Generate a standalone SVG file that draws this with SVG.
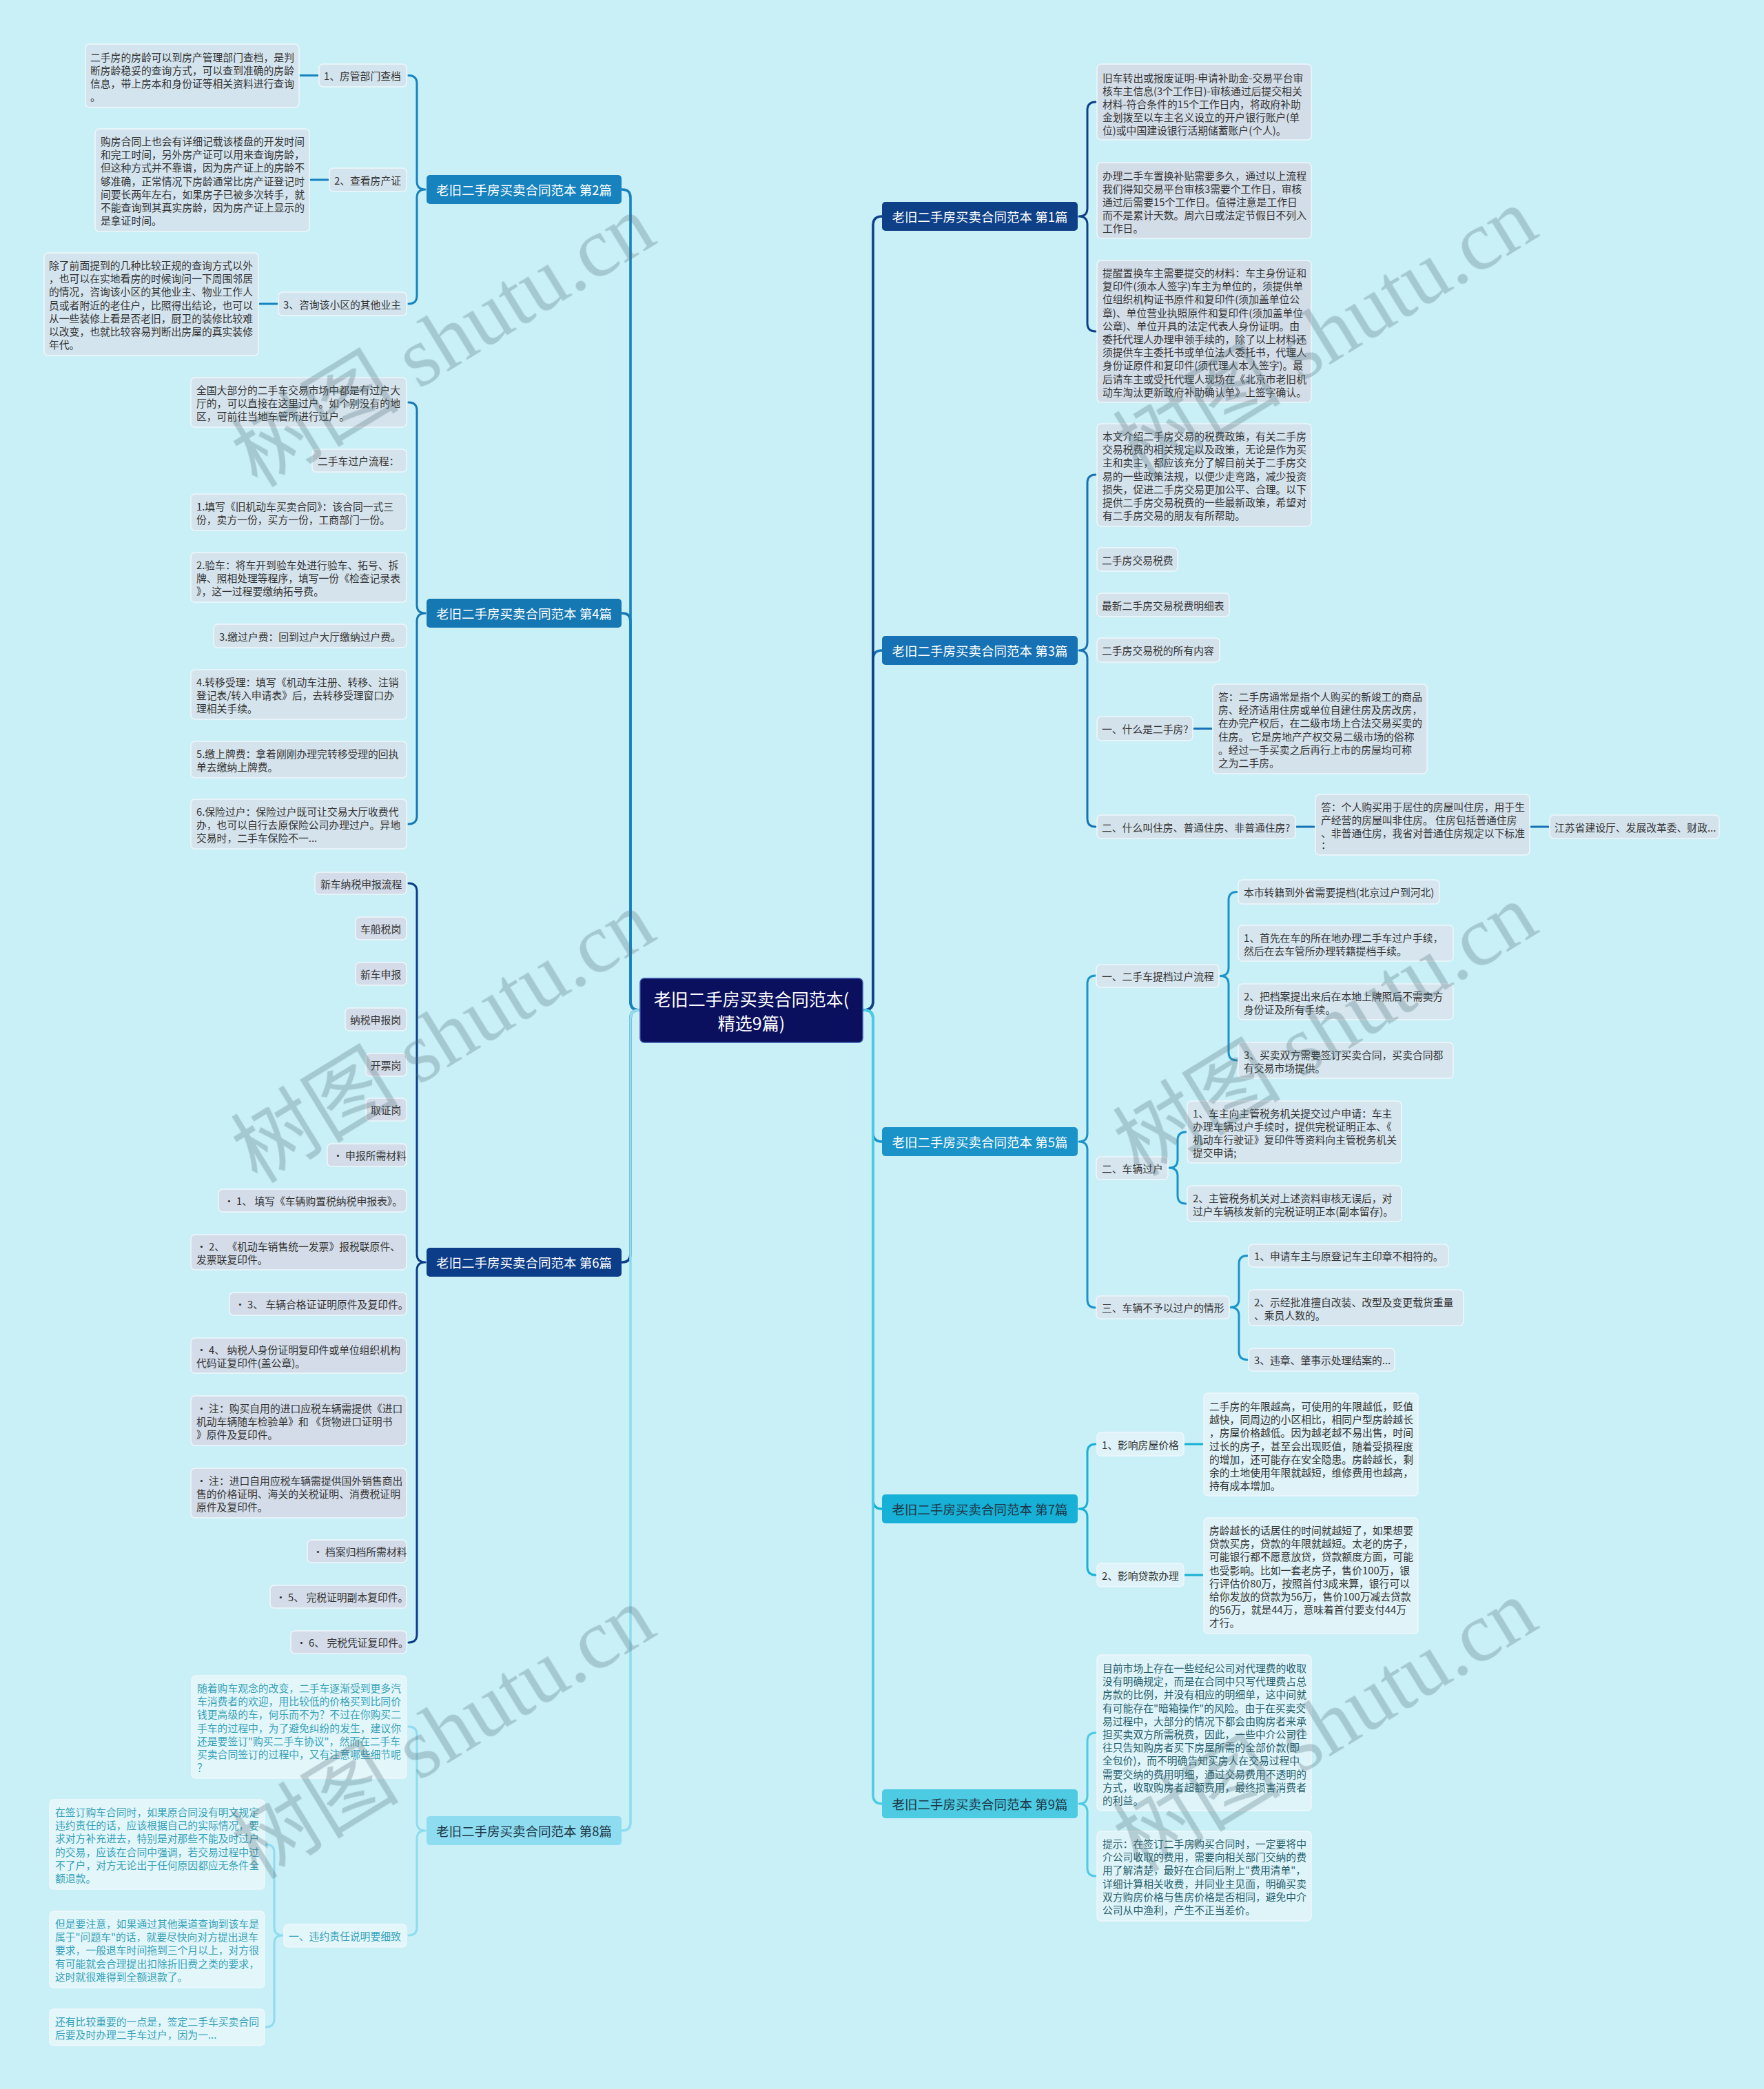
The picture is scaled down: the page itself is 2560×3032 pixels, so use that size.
<svg xmlns="http://www.w3.org/2000/svg" width="2560" height="3032" viewBox="0 0 2560 3032">
<style>
text{font-family:"Noto Sans CJK SC","Liberation Sans",sans-serif}
.t{font-size:14.8px;fill:#333;dominant-baseline:central}
.lf rect{stroke:#eef8fb;stroke-width:1.5}
.p1 rect{fill:#d3dde8}.p2 rect{fill:#d4e4ee}.p3 rect{fill:#d4e2ec}.p4 rect{fill:#d5e3ec}.p5 rect{fill:#d6e5ee}.p6 rect{fill:#d3dce8}.p7 rect{fill:#dff3f8}.p8 rect{fill:#e3f6fa}.p9 rect{fill:#dff4f9}
.p8 .t{fill:#37a2b8}.p9 .t{fill:#265e6b}
.br text{font-size:18.5px;text-anchor:middle;dominant-baseline:central}
.wt{fill:#ffffff}.dk{fill:#1c3646}
.con path{fill:none;stroke-width:3;stroke-linecap:round;stroke-linejoin:round}
.cc path{stroke-width:3.6}
.wm{fill:#506e78;opacity:.3;font-size:122px}
</style>
<rect width="2560" height="3032" fill="#c9eff7"/>

<g id="connectors" class="con">
 <g class="cc">
  <path stroke="#1678b3" d="M927,1466 Q915,1466 915,1454 L915,902 Q915,890 903,890"/>
  <path stroke="#1683bf" d="M927,1466 Q915,1466 915,1454 L915,287 Q915,275 903,275"/>
  <path stroke="#0c3d88" d="M927,1466 Q915,1466 915,1478 L915,1820 Q915,1832 903,1832"/>
  <path stroke="#8edcf0" d="M927,1466 Q915,1466 915,1478 L915,2645 Q915,2657 903,2657"/>
  <path stroke="#1672b4" d="M1254,1466 Q1267,1466 1267,1453 L1267,957 Q1267,944 1280,944"/>
  <path stroke="#0e4088" d="M1254,1466 Q1267,1466 1267,1453 L1267,327 Q1267,314 1280,314"/>
  <path stroke="#1a93c9" d="M1254,1466 Q1267,1466 1267,1479 L1267,1644 Q1267,1657 1280,1657"/>
  <path stroke="#17b0d6" d="M1254,1466 Q1267,1466 1267,1479 L1267,2177 Q1267,2190 1280,2190"/>
  <path stroke="#4dcbe3" d="M1254,1466 Q1267,1466 1267,1479 L1267,2605 Q1267,2618 1280,2618"/>
 </g>
 <path stroke="#1683bf" d="M593,109.5 Q605,109.5 605,121.5 L605,263 Q605,275 617,275 Q605,275 605,287 L605,429 Q605,441 593,441"/>
 <path stroke="#1683bf" d="M436,109.5 L461,109.5 M451,261 L476,261 M377,441 L402,441"/>
 <path stroke="#1678b3" d="M593,584 Q605,584 605,596 L605,878 Q605,890 617,890 Q605,890 605,902 L605,1184 Q605,1196 593,1196"/>
 <path stroke="#0c3d88" d="M593,1282 Q605,1282 605,1294 L605,1820 Q605,1832 617,1832 Q605,1832 605,1844 L605,2372 Q605,2384 593,2384"/>
 <path stroke="#8edcf0" d="M593,2506 Q605,2506 605,2518 L605,2645 Q605,2657 617,2657 Q605,2657 605,2669 L605,2797 Q605,2809 593,2809"/>
 <path stroke="#8edcf0" d="M386,2677 Q398,2677 398,2689 L398,2797 Q398,2809 410,2809 Q398,2809 398,2821 L398,2930 Q398,2942 386,2942"/>
 <path stroke="#0e4088" d="M1590,148 Q1578,148 1578,160 L1578,302 Q1578,314 1566,314 Q1578,314 1578,326 L1578,469 Q1578,481 1590,481"/>
 <path stroke="#1672b4" d="M1590,689 Q1578,689 1578,701 L1578,932 Q1578,944 1566,944 Q1578,944 1578,956 L1578,1188 Q1578,1200 1590,1200"/>
 <path stroke="#1672b4" d="M1733,1057.5 L1758,1057.5 M1882,1200 L1907,1200 M2222,1200 L2247,1200"/>
 <path stroke="#1a93c9" d="M1590,1416 Q1578,1416 1578,1428 L1578,1645 Q1578,1657 1566,1657 Q1578,1657 1578,1669 L1578,1886 Q1578,1898 1590,1898"/>
 <path stroke="#1a93c9" d="M1795,1294.5 Q1783,1294.5 1783,1306.5 L1783,1404.5 Q1783,1416.5 1771,1416.5 Q1783,1416.5 1783,1428.5 L1783,1527 Q1783,1539 1795,1539"/>
 <path stroke="#1a93c9" d="M1721,1643 Q1709,1643 1709,1655 L1709,1683 Q1709,1695 1697,1695 Q1709,1695 1709,1707 L1709,1735 Q1709,1747 1721,1747"/>
 <path stroke="#1a93c9" d="M1810,1822.5 Q1798,1822.5 1798,1834.5 L1798,1885.5 Q1798,1897.5 1786,1897.5 Q1798,1897.5 1798,1909.5 L1798,1961.5 Q1798,1973.5 1810,1973.5"/>
 <path stroke="#17b0d6" d="M1590,2096 Q1578,2096 1578,2108 L1578,2178 Q1578,2190 1566,2190 Q1578,2190 1578,2202 L1578,2274 Q1578,2286 1590,2286"/>
 <path stroke="#17b0d6" d="M1720,2096 L1745,2096 M1720,2286 L1745,2286"/>
 <path stroke="#4dcbe3" d="M1590,2515 Q1578,2515 1578,2527 L1578,2606 Q1578,2618 1566,2618 Q1578,2618 1578,2630 L1578,2711 Q1578,2723 1590,2723"/>
</g>

<g id="center">
 <rect x="929" y="1420" width="323" height="93" rx="6" fill="#0b105e" stroke="#3552a8" stroke-width="1.5"/>
 <text font-size="25" fill="#fff" text-anchor="middle" dominant-baseline="central"><tspan x="1090.5" y="1449">老旧二手房买卖合同范本(</tspan><tspan x="1090.5" y="1484">精选9篇)</tspan></text>
</g>

<g id="b1" class="br"><rect x="1280" y="293" width="284" height="42" rx="5" fill="#0e4088"/><text class="wt" x="1422" y="314">老旧二手房买卖合同范本 第1篇</text></g>
<g id="b2" class="br"><rect x="619" y="254" width="283" height="42" rx="5" fill="#1683bf"/><text class="wt" x="760.5" y="275">老旧二手房买卖合同范本 第2篇</text></g>
<g id="b3" class="br"><rect x="1280" y="923" width="284" height="42" rx="5" fill="#1672b4"/><text class="wt" x="1422" y="944">老旧二手房买卖合同范本 第3篇</text></g>
<g id="b4" class="br"><rect x="619" y="869" width="283" height="42" rx="5" fill="#1678b3"/><text class="wt" x="760.5" y="890">老旧二手房买卖合同范本 第4篇</text></g>
<g id="b5" class="br"><rect x="1280" y="1636" width="284" height="42" rx="5" fill="#1a93c9"/><text class="wt" x="1422" y="1657">老旧二手房买卖合同范本 第5篇</text></g>
<g id="b6" class="br"><rect x="619" y="1811" width="283" height="42" rx="5" fill="#0c3d88"/><text class="wt" x="760.5" y="1832">老旧二手房买卖合同范本 第6篇</text></g>
<g id="b7" class="br"><rect x="1280" y="2169" width="284" height="42" rx="5" fill="#17b0d6"/><text class="dk" x="1422" y="2190">老旧二手房买卖合同范本 第7篇</text></g>
<g id="b8" class="br"><rect x="619" y="2636" width="283" height="42" rx="5" fill="#8edcf0"/><text class="dk" x="760.5" y="2657">老旧二手房买卖合同范本 第8篇</text></g>
<g id="b9" class="br"><rect x="1280" y="2597" width="284" height="42" rx="5" fill="#4dcbe3"/><text class="dk" x="1422" y="2618">老旧二手房买卖合同范本 第9篇</text></g>

<!-- 第2篇 -->
<g id="a1" class="lf p2"><rect x="124" y="64" width="310" height="92" rx="6"/><text class="t"><tspan x="131" y="82">二手房的房龄可以到房产管理部门查档，是判</tspan><tspan x="131" y="101">断房龄稳妥的查询方式，可以查到准确的房龄</tspan><tspan x="131" y="120">信息，带上房本和身份证等相关资料进行查询</tspan><tspan x="131" y="139">。</tspan></text></g>
<g id="l1" class="lf p2"><rect x="463" y="93" width="127" height="33" rx="6"/><text class="t" x="470" y="109.5">1、房管部门查档</text></g>
<g id="a2" class="lf p2"><rect x="138" y="187" width="311" height="149" rx="6"/><text class="t"><tspan x="146" y="204">购房合同上也会有详细记载该楼盘的开发时间</tspan><tspan x="146" y="223.2">和完工时间，另外房产证可以用来查询房龄，</tspan><tspan x="146" y="242.4">但这种方式并不靠谱，因为房产证上的房龄不</tspan><tspan x="146" y="261.6">够准确，正常情况下房龄通常比房产证登记时</tspan><tspan x="146" y="280.8">间要长两年左右，如果房子已被多次转手，就</tspan><tspan x="146" y="300">不能查询到其真实房龄，因为房产证上显示的</tspan><tspan x="146" y="319.2">是拿证时间。</tspan></text></g>
<g id="l2" class="lf p2"><rect x="478" y="244" width="112" height="34" rx="6"/><text class="t" x="485" y="261">2、查看房产证</text></g>
<g id="a3" class="lf p2"><rect x="64" y="367" width="311" height="149" rx="6"/><text class="t"><tspan x="71" y="384">除了前面提到的几种比较正规的查询方式以外</tspan><tspan x="71" y="403.2">，也可以在实地看房的时候询问一下周围邻居</tspan><tspan x="71" y="422.4">的情况，咨询该小区的其他业主、物业工作人</tspan><tspan x="71" y="441.6">员或者附近的老住户，比照得出结论，也可以</tspan><tspan x="71" y="460.8">从一些装修上看是否老旧，厨卫的装修比较难</tspan><tspan x="71" y="480">以改变，也就比较容易判断出房屋的真实装修</tspan><tspan x="71" y="499.2">年代。</tspan></text></g>
<g id="l3" class="lf p2"><rect x="404" y="424" width="186" height="34" rx="6"/><text class="t" x="411" y="441">3、咨询该小区的其他业主</text></g>

<!-- 第4篇 -->
<g id="c4a" class="lf p4"><rect x="277" y="548" width="313" height="72" rx="6"/><text class="t"><tspan x="285" y="565">全国大部分的二手车交易市场中都是有过户大</tspan><tspan x="285" y="584.2">厅的，可以直接在这里过户。如个别没有的地</tspan><tspan x="285" y="603.4">区，可前往当地车管所进行过户。</tspan></text></g>
<g id="c4b" class="lf p4"><rect x="453" y="652" width="137" height="33" rx="6"/><text class="t" x="461" y="668.5">二手车过户流程：</text></g>
<g id="c4c" class="lf p4"><rect x="277" y="717" width="313" height="53" rx="6"/><text class="t"><tspan x="285" y="734">1.填写《旧机动车买卖合同》：该合同一式三</tspan><tspan x="285" y="753.2">份，卖方一份，买方一份，工商部门一份。</tspan></text></g>
<g id="c4d" class="lf p4"><rect x="277" y="802" width="313" height="72" rx="6"/><text class="t"><tspan x="285" y="819">2.验车：将车开到验车处进行验车、拓号、拆</tspan><tspan x="285" y="838.2">牌、照相处理等程序，填写一份《检查记录表</tspan><tspan x="285" y="857.4">》，这一过程要缴纳拓号费。</tspan></text></g>
<g id="c4e" class="lf p4"><rect x="310" y="906" width="280" height="34" rx="6"/><text class="t" x="318" y="923">3.缴过户费：回到过户大厅缴纳过户费。</text></g>
<g id="c4f" class="lf p4"><rect x="277" y="972" width="313" height="72" rx="6"/><text class="t"><tspan x="285" y="989">4.转移受理：填写《机动车注册、转移、注销</tspan><tspan x="285" y="1008.2">登记表/转入申请表》后，去转移受理窗口办</tspan><tspan x="285" y="1027.4">理相关手续。</tspan></text></g>
<g id="c4g" class="lf p4"><rect x="277" y="1076" width="313" height="53" rx="6"/><text class="t"><tspan x="285" y="1093">5.缴上牌费：拿着刚刚办理完转移受理的回执</tspan><tspan x="285" y="1112.2">单去缴纳上牌费。</tspan></text></g>
<g id="c4h" class="lf p4"><rect x="277" y="1160" width="313" height="72" rx="6"/><text class="t"><tspan x="285" y="1177">6.保险过户：保险过户既可让交易大厅收费代</tspan><tspan x="285" y="1196.2">办，也可以自行去原保险公司办理过户。异地</tspan><tspan x="285" y="1215.4">交易时，二手车保险不一...</tspan></text></g>

<!-- 第6篇 -->
<g id="c6a" class="lf p6"><rect x="457" y="1266" width="133" height="32" rx="6"/><text class="t" x="465" y="1282">新车纳税申报流程</text></g>
<g id="c6b" class="lf p6"><rect x="516" y="1331" width="74" height="33" rx="6"/><text class="t" x="523" y="1347.5">车船税岗</text></g>
<g id="c6c" class="lf p6"><rect x="516" y="1397" width="74" height="33" rx="6"/><text class="t" x="523" y="1413.5">新车申报</text></g>
<g id="c6d" class="lf p6"><rect x="501" y="1463" width="89" height="33" rx="6"/><text class="t" x="508" y="1479.5">纳税申报岗</text></g>
<g id="c6e" class="lf p6"><rect x="531" y="1529" width="59" height="33" rx="6"/><text class="t" x="538" y="1545.5">开票岗</text></g>
<g id="c6f" class="lf p6"><rect x="531" y="1594" width="59" height="33" rx="6"/><text class="t" x="538" y="1610.5">取证岗</text></g>
<g id="c6g" class="lf p6"><rect x="475" y="1660" width="115" height="33" rx="6"/><text class="t" x="483" y="1676.5">• 申报所需材料</text></g>
<g id="c6h" class="lf p6"><rect x="317" y="1726" width="273" height="33" rx="6"/><text class="t" x="325" y="1742.5">• 1、 填写《车辆购置税纳税申报表》。</text></g>
<g id="c6i" class="lf p6"><rect x="277" y="1792" width="313" height="51" rx="6"/><text class="t"><tspan x="285" y="1808">• 2、 《机动车销售统一发票》报税联原件、</tspan><tspan x="285" y="1827">发票联复印件。</tspan></text></g>
<g id="c6j" class="lf p6"><rect x="333" y="1876" width="257" height="33" rx="6"/><text class="t" x="341" y="1892.5">• 3、 车辆合格证证明原件及复印件。</text></g>
<g id="c6k" class="lf p6"><rect x="277" y="1942" width="313" height="51" rx="6"/><text class="t"><tspan x="285" y="1958">• 4、 纳税人身份证明复印件或单位组织机构</tspan><tspan x="285" y="1977">代码证复印件(盖公章)。</tspan></text></g>
<g id="c6l" class="lf p6"><rect x="277" y="2026" width="313" height="72" rx="6"/><text class="t"><tspan x="285" y="2043">• 注：购买自用的进口应税车辆需提供《进口</tspan><tspan x="285" y="2062">机动车辆随车检验单》和 《货物进口证明书</tspan><tspan x="285" y="2081">》原件及复印件。</tspan></text></g>
<g id="c6m" class="lf p6"><rect x="277" y="2131" width="313" height="72" rx="6"/><text class="t"><tspan x="285" y="2148">• 注：进口自用应税车辆需提供国外销售商出</tspan><tspan x="285" y="2167">售的价格证明、海关的关税证明、消费税证明</tspan><tspan x="285" y="2186">原件及复印件。</tspan></text></g>
<g id="c6n" class="lf p6"><rect x="446" y="2235" width="144" height="33" rx="6"/><text class="t" x="454" y="2251.5">• 档案归档所需材料</text></g>
<g id="c6o" class="lf p6"><rect x="392" y="2301" width="198" height="33" rx="6"/><text class="t" x="400" y="2317.5">• 5、 完税证明副本复印件。</text></g>
<g id="c6p" class="lf p6"><rect x="422" y="2367" width="168" height="33" rx="6"/><text class="t" x="430" y="2383.5">• 6、 完税凭证复印件。</text></g>

<!-- 第8篇 -->
<g id="c8a" class="lf p8"><rect x="278" y="2432" width="312" height="149" rx="6"/><text class="t"><tspan x="286" y="2449">随着购车观念的改变，二手车逐渐受到更多汽</tspan><tspan x="286" y="2468.2">车消费者的欢迎，用比较低的价格买到比同价</tspan><tspan x="286" y="2487.4">钱更高级的车，何乐而不为？不过在你购买二</tspan><tspan x="286" y="2506.6">手车的过程中，为了避免纠纷的发生，建议你</tspan><tspan x="286" y="2525.8">还是要签订"购买二手车协议"，然而在二手车</tspan><tspan x="286" y="2545">买卖合同签订的过程中，又有注意哪些细节呢</tspan><tspan x="286" y="2564.2">？</tspan></text></g>
<g id="c8b" class="lf p8"><rect x="412" y="2793" width="178" height="33" rx="6"/><text class="t" x="419" y="2809.5">一、违约责任说明要细致</text></g>
<g id="c8c" class="lf p8"><rect x="72" y="2612" width="312" height="130" rx="6"/><text class="t"><tspan x="80" y="2629">在签订购车合同时，如果原合同没有明文规定</tspan><tspan x="80" y="2648.2">违约责任的话，应该根据自己的实际情况，要</tspan><tspan x="80" y="2667.4">求对方补充进去，特别是对那些不能及时过户</tspan><tspan x="80" y="2686.6">的交易，应该在合同中强调，若交易过程中过</tspan><tspan x="80" y="2705.8">不了户，对方无论出于任何原因都应无条件全</tspan><tspan x="80" y="2725">额退款。</tspan></text></g>
<g id="c8d" class="lf p8"><rect x="72" y="2774" width="312" height="111" rx="6"/><text class="t"><tspan x="80" y="2791">但是要注意，如果通过其他渠道查询到该车是</tspan><tspan x="80" y="2810.2">属于"问题车"的话，就要尽快向对方提出退车</tspan><tspan x="80" y="2829.4">要求，一般退车时间拖到三个月以上，对方很</tspan><tspan x="80" y="2848.6">有可能就会合理提出扣除折旧费之类的要求，</tspan><tspan x="80" y="2867.8">这时就很难得到全额退款了。</tspan></text></g>
<g id="c8e" class="lf p8"><rect x="72" y="2916" width="312" height="53" rx="6"/><text class="t"><tspan x="80" y="2933">还有比较重要的一点是，签定二手车买卖合同</tspan><tspan x="80" y="2952.2">后要及时办理二手车过户，因为一...</tspan></text></g>

<!-- 第1篇 -->
<g id="c1a" class="lf p1"><rect x="1592" y="93" width="311" height="110" rx="6"/><text class="t"><tspan x="1600" y="112">旧车转出或报废证明-申请补助金-交易平台审</tspan><tspan x="1600" y="131">核车主信息(3个工作日)-审核通过后提交相关</tspan><tspan x="1600" y="150">材料-符合条件的15个工作日内，将政府补助</tspan><tspan x="1600" y="169">金划拨至以车主名义设立的开户银行账户(单</tspan><tspan x="1600" y="188">位)或中国建设银行活期储蓄账户(个人)。</tspan></text></g>
<g id="c1b" class="lf p1"><rect x="1592" y="236" width="311" height="110" rx="6"/><text class="t"><tspan x="1600" y="254">办理二手车置换补贴需要多久，通过以上流程</tspan><tspan x="1600" y="273">我们得知交易平台审核3需要个工作日，审核</tspan><tspan x="1600" y="292">通过后需要15个工作日。值得注意是工作日</tspan><tspan x="1600" y="311">而不是累计天数。周六日或法定节假日不列入</tspan><tspan x="1600" y="330">工作日。</tspan></text></g>
<g id="c1c" class="lf p1"><rect x="1592" y="378" width="311" height="206" rx="6"/><text class="t"><tspan x="1600" y="395">提醒置换车主需要提交的材料：车主身份证和</tspan><tspan x="1600" y="414.2">复印件(须本人签字)车主为单位的，须提供单</tspan><tspan x="1600" y="433.4">位组织机构证书原件和复印件(须加盖单位公</tspan><tspan x="1600" y="452.6">章)、单位营业执照原件和复印件(须加盖单位</tspan><tspan x="1600" y="471.8">公章)、单位开具的法定代表人身份证明。由</tspan><tspan x="1600" y="491">委托代理人办理申领手续的，除了以上材料还</tspan><tspan x="1600" y="510.2">须提供车主委托书或单位法人委托书，代理人</tspan><tspan x="1600" y="529.4">身份证原件和复印件(须代理人本人签字)。最</tspan><tspan x="1600" y="548.6">后请车主或受托代理人现场在《北京市老旧机</tspan><tspan x="1600" y="567.8">动车淘汰更新政府补助确认单》上签字确认。</tspan></text></g>

<!-- 第3篇 -->
<g id="c3a" class="lf p3"><rect x="1592" y="615" width="311" height="149" rx="6"/><text class="t"><tspan x="1600" y="632">本文介绍二手房交易的税费政策，有关二手房</tspan><tspan x="1600" y="651.2">交易税费的相关规定以及政策，无论是作为买</tspan><tspan x="1600" y="670.4">主和卖主，都应该充分了解目前关于二手房交</tspan><tspan x="1600" y="689.6">易的一些政策法规，以便少走弯路，减少投资</tspan><tspan x="1600" y="708.8">损失，促进二手房交易更加公平、合理。以下</tspan><tspan x="1600" y="728">提供二手房交易税费的一些最新政策，希望对</tspan><tspan x="1600" y="747.2">有二手房交易的朋友有所帮助。</tspan></text></g>
<g id="c3b" class="lf p3"><rect x="1592" y="795" width="117" height="34" rx="6"/><text class="t" x="1599" y="812">二手房交易税费</text></g>
<g id="c3c" class="lf p3"><rect x="1592" y="861" width="192" height="34" rx="6"/><text class="t" x="1599" y="878">最新二手房交易税费明细表</text></g>
<g id="c3d" class="lf p3"><rect x="1592" y="926" width="178" height="35" rx="6"/><text class="t" x="1599" y="943.5">二手房交易税的所有内容</text></g>
<g id="c3e" class="lf p3"><rect x="1592" y="1040" width="139" height="35" rx="6"/><text class="t" x="1599" y="1057.5">一、什么是二手房?</text></g>
<g id="c3f" class="lf p3"><rect x="1760" y="993" width="311" height="130" rx="6"/><text class="t"><tspan x="1768" y="1010">答：二手房通常是指个人购买的新竣工的商品</tspan><tspan x="1768" y="1029.2">房、经济适用住房或单位自建住房及房改房，</tspan><tspan x="1768" y="1048.4">在办完产权后，在二级市场上合法交易买卖的</tspan><tspan x="1768" y="1067.6">住房。 它是房地产产权交易二级市场的俗称</tspan><tspan x="1768" y="1086.8">。经过一手买卖之后再行上市的房屋均可称</tspan><tspan x="1768" y="1106">之为二手房。</tspan></text></g>
<g id="c3g" class="lf p3"><rect x="1592" y="1183" width="288" height="34" rx="6"/><text class="t" x="1599" y="1200">二、什么叫住房、普通住房、非普通住房?</text></g>
<g id="c3h" class="lf p3"><rect x="1909" y="1153" width="311" height="88" rx="6"/><text class="t"><tspan x="1917" y="1170">答：个人购买用于居住的房屋叫住房，用于生</tspan><tspan x="1917" y="1189.2">产经营的房屋叫非住房。 住房包括普通住房</tspan><tspan x="1917" y="1208.4">、非普通住房，我省对普通住房规定以下标准</tspan><tspan x="1917" y="1225">：</tspan></text></g>
<g id="c3i" class="lf p3"><rect x="2249" y="1183" width="246" height="34" rx="6"/><text class="t" x="2256" y="1200">江苏省建设厅、发展改革委、财政...</text></g>

<!-- 第5篇 -->
<g id="c5a" class="lf p5"><rect x="1591" y="1400" width="178" height="33" rx="6"/><text class="t" x="1599" y="1416.5">一、二手车提档过户流程</text></g>
<g id="c5a1" class="lf p5"><rect x="1797" y="1277" width="292" height="35" rx="6"/><text class="t" x="1805" y="1294.5">本市转籍到外省需要提档(北京过户到河北)</text></g>
<g id="c5a2" class="lf p5"><rect x="1797" y="1343" width="312" height="52" rx="6"/><text class="t"><tspan x="1805" y="1360">1、首先在车的所在地办理二手车过户手续，</tspan><tspan x="1805" y="1379">然后在去车管所办理转籍提档手续。</tspan></text></g>
<g id="c5a3" class="lf p5"><rect x="1797" y="1428" width="312" height="52" rx="6"/><text class="t"><tspan x="1805" y="1445">2、把档案提出来后在本地上牌照后不需卖方</tspan><tspan x="1805" y="1464">身份证及所有手续。</tspan></text></g>
<g id="c5a4" class="lf p5"><rect x="1797" y="1513" width="312" height="52" rx="6"/><text class="t"><tspan x="1805" y="1530">3、买卖双方需要签订买卖合同，买卖合同都</tspan><tspan x="1805" y="1549">有交易市场提供。</tspan></text></g>
<g id="c5b" class="lf p5"><rect x="1591" y="1679" width="104" height="33" rx="6"/><text class="t" x="1599" y="1695.5">二、车辆过户</text></g>
<g id="c5b1" class="lf p5"><rect x="1723" y="1598" width="311" height="90" rx="6"/><text class="t"><tspan x="1731" y="1615">1、车主向主管税务机关提交过户申请：车主</tspan><tspan x="1731" y="1634">办理车辆过户手续时，提供完税证明正本、《</tspan><tspan x="1731" y="1653">机动车行驶证》复印件等资料向主管税务机关</tspan><tspan x="1731" y="1672">提交申请;</tspan></text></g>
<g id="c5b2" class="lf p5"><rect x="1723" y="1721" width="311" height="52" rx="6"/><text class="t"><tspan x="1731" y="1738">2、主管税务机关对上述资料审核无误后，对</tspan><tspan x="1731" y="1757">过户车辆核发新的完税证明正本(副本留存)。</tspan></text></g>
<g id="c5c" class="lf p5"><rect x="1591" y="1881" width="193" height="33" rx="6"/><text class="t" x="1599" y="1897.5">三、车辆不予以过户的情形</text></g>
<g id="c5c1" class="lf p5"><rect x="1812" y="1806" width="290" height="33" rx="6"/><text class="t" x="1820" y="1822.5">1、申请车主与原登记车主印章不相符的。</text></g>
<g id="c5c2" class="lf p5"><rect x="1812" y="1872" width="312" height="52" rx="6"/><text class="t"><tspan x="1820" y="1889">2、示经批准擅自改装、改型及变更载货重量</tspan><tspan x="1820" y="1908">、乘员人数的。</tspan></text></g>
<g id="c5c3" class="lf p5"><rect x="1812" y="1957" width="212" height="33" rx="6"/><text class="t" x="1820" y="1973.5">3、违章、肇事示处理结案的...</text></g>

<!-- 第7篇 -->
<g id="c7a" class="lf p7"><rect x="1592" y="2079" width="126" height="34" rx="6"/><text class="t" x="1599" y="2096">1、影响房屋价格</text></g>
<g id="c7a1" class="lf p7"><rect x="1747" y="2022" width="311" height="149" rx="6"/><text class="t"><tspan x="1755" y="2040">二手房的年限越高，可使用的年限越低，贬值</tspan><tspan x="1755" y="2059.2">越快，同周边的小区相比，相同户型房龄越长</tspan><tspan x="1755" y="2078.4">，房屋价格越低。因为越老越不易出售，时间</tspan><tspan x="1755" y="2097.6">过长的房子，甚至会出现贬值，随着受损程度</tspan><tspan x="1755" y="2116.8">的增加，还可能存在安全隐患。房龄越长，剩</tspan><tspan x="1755" y="2136">余的土地使用年限就越短，维修费用也越高，</tspan><tspan x="1755" y="2155.2">持有成本增加。</tspan></text></g>
<g id="c7b" class="lf p7"><rect x="1592" y="2269" width="126" height="34" rx="6"/><text class="t" x="1599" y="2286">2、影响贷款办理</text></g>
<g id="c7b1" class="lf p7"><rect x="1747" y="2203" width="311" height="168" rx="6"/><text class="t"><tspan x="1755" y="2220">房龄越长的话居住的时间就越短了，如果想要</tspan><tspan x="1755" y="2239.2">贷款买房，贷款的年限就越短。太老的房子，</tspan><tspan x="1755" y="2258.4">可能银行都不愿意放贷，贷款额度方面，可能</tspan><tspan x="1755" y="2277.6">也受影响。比如一套老房子，售价100万，银</tspan><tspan x="1755" y="2296.8">行评估价80万，按照首付3成来算，银行可以</tspan><tspan x="1755" y="2316">给你发放的贷款为56万，售价100万减去贷款</tspan><tspan x="1755" y="2335.2">的56万，就是44万，意味着首付要支付44万</tspan><tspan x="1755" y="2354.4">才行。</tspan></text></g>

<!-- 第9篇 -->
<g id="c9a" class="lf p9"><rect x="1592" y="2402" width="311" height="226" rx="6"/><text class="t"><tspan x="1600" y="2420">目前市场上存在一些经纪公司对代理费的收取</tspan><tspan x="1600" y="2439.2">没有明确规定，而是在合同中只写代理费占总</tspan><tspan x="1600" y="2458.4">房款的比例，并没有相应的明细单，这中间就</tspan><tspan x="1600" y="2477.6">有可能存在"暗箱操作"的风险。由于在买卖交</tspan><tspan x="1600" y="2496.8">易过程中，大部分的情况下都会由购房者来承</tspan><tspan x="1600" y="2516">担买卖双方所需税费，因此，一些中介公司往</tspan><tspan x="1600" y="2535.2">往只告知购房者买下房屋所需的全部价款(即</tspan><tspan x="1600" y="2554.4">全包价)，而不明确告知买房人在交易过程中</tspan><tspan x="1600" y="2573.6">需要交纳的费用明细，通过交易费用不透明的</tspan><tspan x="1600" y="2592.8">方式，收取购房者超额费用，最终损害消费者</tspan><tspan x="1600" y="2612">的利益。</tspan></text></g>
<g id="c9b" class="lf p9"><rect x="1592" y="2658" width="311" height="130" rx="6"/><text class="t"><tspan x="1600" y="2675">提示：在签订二手房购买合同时，一定要将中</tspan><tspan x="1600" y="2694.2">介公司收取的费用，需要向相关部门交纳的费</tspan><tspan x="1600" y="2713.4">用了解清楚，最好在合同后附上"费用清单"，</tspan><tspan x="1600" y="2732.6">详细计算相关收费，并同业主见面，明确买卖</tspan><tspan x="1600" y="2751.8">双方购房价格与售房价格是否相同，避免中介</tspan><tspan x="1600" y="2771">公司从中渔利，产生不正当差价。</tspan></text></g>

<g id="watermarks" class="wm" text-anchor="middle">
 <text transform="translate(665,530) rotate(-31.5)"><tspan>树图</tspan><tspan font-family="Liberation Serif"> shutu.cn</tspan></text>
 <text transform="translate(1945,520) rotate(-31.5)"><tspan>树图</tspan><tspan font-family="Liberation Serif"> shutu.cn</tspan></text>
 <text transform="translate(665,1540) rotate(-31.5)"><tspan>树图</tspan><tspan font-family="Liberation Serif"> shutu.cn</tspan></text>
 <text transform="translate(1945,1530) rotate(-31.5)"><tspan>树图</tspan><tspan font-family="Liberation Serif"> shutu.cn</tspan></text>
 <text transform="translate(665,2550) rotate(-31.5)"><tspan>树图</tspan><tspan font-family="Liberation Serif"> shutu.cn</tspan></text>
 <text transform="translate(1945,2540) rotate(-31.5)"><tspan>树图</tspan><tspan font-family="Liberation Serif"> shutu.cn</tspan></text>
</g>
</svg>
